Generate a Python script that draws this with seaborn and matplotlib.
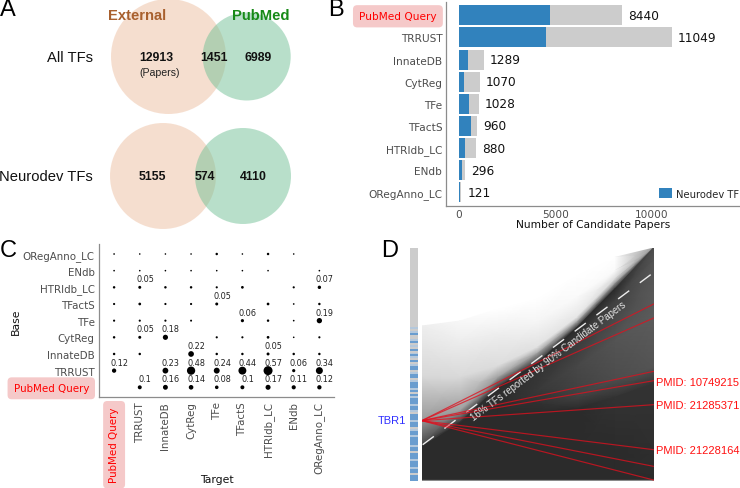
import numpy as np
import pandas as pd
import matplotlib
matplotlib.use("Agg")
import matplotlib.pyplot as plt
from matplotlib.colors import ListedColormap
from matplotlib.patches import Circle
from matplotlib.transforms import ScaledTranslation
import seaborn as sns

sns.set_theme(style="white")
plt.rcParams['font.family'] = ['DejaVu Sans']
W, H = 740, 489
HELV = 'Liberation Sans'
GREY = '#4D4D4D'
AXC = '#8C8C8C'

# ---- data ----
databases = ['PubMed Query', 'TRRUST', 'InnateDB', 'CytReg', 'TFe', 'TFactS', 'HTRIdb_LC', 'ENdb', 'ORegAnno_LC']
total_papers = [8440, 11049, 1289, 1070, 1028, 960, 880, 296, 121]
neurodev_papers = [4725, 4500, 483, 260, 535, 623, 312, 156, 36]

venn_all = ['12913', '1451', '6989']
venn_neuro = ['5155', '574', '4110']

overlap_pubmed = [np.nan, .1, .16, .14, .08, .1, .17, .11, .12]
overlap_trrust = [.12, np.nan, .23, .48, .24, .44, .57, .06, .34]
overlap_innate = [.03, .03, np.nan, .22, .03, .03, .05, .03, .03]
overlap_cytreg = [.03, .05, .18, np.nan, .02, .02, .04, .005, .02]
overlap_tfe = [.02, .02, .02, .015, np.nan, .06, .03, .007, .19]
overlap_tfacts = [.02, .04, .02, .02, .05, np.nan, .04, .007, .03]
overlap_htri = [.03, .05, .03, .03, .02, .04, np.nan, .02, .07]
overlap_endb = [.006, .005, .005, .005, .005, .005, .005, np.nan, .006]
overlap_oreg = [.006, .004, .004, .004, .03, .004, .03, .004, np.nan]

# panel D, read in image rows: x stations, band edges and grey level per band edge
d_x = [155, 270, 385, 500, 620, 735, 851]
d_edges = [
    [276, 261, 225, 195, 125, 70, 42],
    [330, 320, 300, 265, 190, 110, 42],
    [430, 430, 395, 340, 250, 135, 42],
    [560, 530, 430, 360, 265, 150, 42],
    [632, 565, 460, 390, 282, 165, 42],
    [640, 570, 480, 410, 310, 200, 80],
    [640, 575, 510, 470, 400, 320, 250],
    [640, 578, 535, 510, 490, 440, 400],
    [640, 580, 550, 535, 525, 490, 450],
    [650, 650, 650, 650, 650, 650, 650],
    [740, 740, 740, 740, 740, 740, 740],
]
d_grey = [
    [.93, .97, 1, 1, 1, 1, .6],
    [.90, .93, .93, .96, .98, .98, .55],
    [.84, .85, .86, .88, .90, .85, .5],
    [.60, .62, .62, .62, .62, .55, .45],
    [.28, .20, .17, .17, .17, .17, .30],
    [.17, .17, .18, .20, .22, .25, .33],
    [.17, .17, .17, .22, .28, .33, .36],
    [.17, .17, .17, .19, .25, .30, .33],
    [.17, .17, .17, .17, .17, .20, .20],
    [.17, .17, .17, .17, .17, .17, .18],
    [.17, .17, .17, .17, .17, .17, .17],
]
red_line_ends = [210, 252, 412, 440, 512, 647, 697, 738]
tbr1_row = 560
pmid_labels = ['PMID: 10749215', 'PMID: 21285371', 'PMID: 21228164']
side_stripes = "0101200120102012102012201220122212021222122102221222012212222122022212221220222"


fig = plt.figure(figsize=(W / 100, H / 100), dpi=100)


def px_axes(x0, y0, x1, y1, **kw):
    return fig.add_axes([x0 / W, 1 - y1 / H, (x1 - x0) / W, (y1 - y0) / H], **kw)


def px_text(x, y, s, **kw):
    kw.setdefault('va', 'center')
    return fig.text(x / W, 1 - y / H, s, **kw)


PILL = dict(boxstyle='round,pad=0.58,rounding_size=0.4', fc='#F5C9C9', ec='none')

# ---- panel letters ----
for s, x, y in [('A', 0, 10), ('B', 328, 10), ('C', 0, 251), ('D', 381, 251)]:
    px_text(x, y, s, fontsize=17, family=HELV, color='black', ha='left')

# ---- A: Venn ----
ax = fig.add_axes([0, 0, 1, 1], zorder=-1)
ax.set_xlim(0, W)
ax.set_ylim(H, 0)
ax.axis('off')
for cx, cy, r, c in [(168.5, 57.5, 57.5, '#EDBFA1'), (246.7, 57.5, 44, '#73C197'),
                     (163, 177, 53, '#EDBFA1'), (243, 177, 48, '#73C197')]:
    ax.add_patch(Circle((cx, cy), r, fc=c, ec='none', alpha=.5))

px_text(137, 16.5, 'External', family=HELV, fontsize=10.6, fontweight='bold', color='#A8602E', ha='center')
px_text(261, 16.5, 'PubMed', family=HELV, fontsize=10.6, fontweight='bold', color='#178A17', ha='center')
px_text(92.7, 57.5, 'All TFs', family=HELV, fontsize=10.6, ha='right', color='#111111')
px_text(92.7, 177, 'Neurodev TFs', family=HELV, fontsize=10.6, ha='right', color='#111111')
for s, x in zip(venn_all, [156.7, 213.7, 258]):
    px_text(x, 58, s, family=HELV, fontsize=8.8, fontweight='bold', ha='center', color='#111111')
for s, x in zip(venn_neuro, [152.3, 205, 253]):
    px_text(x, 177.5, s, family=HELV, fontsize=8.8, fontweight='bold', ha='center', color='#111111')
px_text(160, 72.7, '(Papers)', family=HELV, fontsize=7.6, ha='center', color='#222222')

# ---- B: bars ----
ax = px_axes(445.7, 3, 740, 206.7)
bars = pd.DataFrame({'db': databases, 'total': total_papers, 'neuro': neurodev_papers})
sns.barplot(data=bars, y='db', x='total', order=databases, color='#CCCCCC', saturation=1, width=.9, linewidth=0,
            ax=ax)
sns.barplot(data=bars, y='db', x='neuro', order=databases, color='#3182BD', saturation=1, width=.9, linewidth=0,
            ax=ax, label='Neurodev TF')
ax.set_xlim(-690, 14590)
ax.set_ylim(8.6, -0.6)
ax.set_xticks([0, 5000, 10000])
ax.set_ylabel('')
ax.set_xlabel('Number of Candidate Papers', fontsize=7.7, color='#111111', labelpad=0)
ax.tick_params(axis='both', length=0, labelsize=7.6, labelcolor=GREY, pad=2.5)
for sp in ['top', 'right']:
    ax.spines[sp].set_visible(False)
for sp in ['left', 'bottom']:
    ax.spines[sp].set_color(AXC)
    ax.spines[sp].set_linewidth(.9)
for i, t in enumerate(total_papers):
    ax.annotate(str(t), (t, i), xytext=(4.5, 0), textcoords='offset points', va='center', ha='left',
                fontsize=8.7, color='#111111')
lab = ax.get_yticklabels()[0]
lab.set_color('#FF0000')
lab.set_bbox(PILL)
lab.set_transform(lab.get_transform() + ScaledTranslation(-.055, 0, fig.dpi_scale_trans))
ax.legend(loc='lower right', bbox_to_anchor=(1.022, 0.0), frameon=False, fontsize=7.2, handlelength=1.3,
          handleheight=1.2, handletextpad=.45, borderpad=.2)

# ---- C: overlap dots ----
ax = px_axes(98.7, 245, 334, 398.3)
matrix = [overlap_pubmed, overlap_trrust, overlap_innate, overlap_cytreg, overlap_tfe,
          overlap_tfacts, overlap_htri, overlap_endb, overlap_oreg]
dots = pd.DataFrame(matrix, index=databases, columns=databases).rename_axis('Base').reset_index()
dots = dots.melt(id_vars='Base', var_name='Target', value_name='v').dropna()
dots['xi'] = dots['Target'].map(databases.index)
dots['yi'] = dots['Base'].map(databases.index)
sns.scatterplot(data=dots, x='xi', y='yi', size='v', sizes=(1, 44), size_norm=(0, .6), color='black',
                linewidth=0, legend=False, ax=ax)
for r in dots.itertuples():
    if r.v >= .05:
        ax.annotate(f'{r.v:g}', (r.xi, r.yi), xytext=(3.8, 6), textcoords='offset points', ha='center',
                    va='center', fontsize=5.9, color='#222222')
ax.set_xlim(-.6, 8.57)
ax.set_ylim(-.6, 8.6)
ax.set_xticks(range(9), databases, rotation=90)
ax.set_yticks(range(9), databases)
ax.tick_params(axis='both', length=0, labelsize=7.4, labelcolor=GREY, pad=3)
ax.set_xlabel('')
ax.set_ylabel('')
for sp in ['top', 'right']:
    ax.spines[sp].set_visible(False)
for sp in ['left', 'bottom']:
    ax.spines[sp].set_color(AXC)
    ax.spines[sp].set_linewidth(.9)
for lab in (ax.get_yticklabels()[0], ax.get_xticklabels()[0]):
    lab.set_color('#FF0000')
    lab.set_bbox(PILL)
ylab = ax.get_yticklabels()[0]
ylab.set_transform(ylab.get_transform() + ScaledTranslation(-.055, 0, fig.dpi_scale_trans))
xlab = ax.get_xticklabels()[0]
xlab.set_transform(xlab.get_transform() + ScaledTranslation(0, -.055, fig.dpi_scale_trans))
px_text(16, 322, 'Base', rotation=90, ha='center', fontsize=7.8, color='#111111')
px_text(216.7, 480, 'Target', ha='center', fontsize=7.8, color='#111111')

# ---- D: rank flows ----
ax = px_axes(421.7, 249, 653.7, 481.7)
X = np.tile(np.array(d_x, float), (len(d_edges), 1))
ax.pcolormesh(X, np.array(d_edges, float), np.array(d_grey), shading='gouraud', cmap='gray', vmin=0, vmax=1)
ax.plot([155, 851], [739, 739], color='#8A8A8A', lw=.9)
ax.plot([158, 842], [632, 122], color='#EDEDED', lw=1.0, dashes=(10, 9.5))
for e in red_line_ends:
    ax.plot([155, 851], [tbr1_row, e], color='#E0101E', lw=.85, alpha=.78)
ax.text(536, 380, '16% TFs reported by 90% Candidate Papers', rotation=37, rotation_mode='anchor', ha='center',
        va='center', family=HELV, fontsize=6.9, color='#E4E4E4')
ax.set_xlim(155, 851)
ax.set_ylim(740, 42)
ax.axis('off')

px_text(391.5, 421, 'TBR1', family=HELV, fontsize=8, color='#3030FF', ha='center')
for s, y in zip(pmid_labels, [382.7, 405.7, 450.7]):
    px_text(655.5, y, s, family=HELV, fontsize=8, color='#FF1010', ha='left')

# side strip
ax = px_axes(410, 249, 418, 481.7)
rows = [0] * 39 + [int(c) for c in side_stripes]
sns.heatmap(np.array(rows)[:, None], cmap=ListedColormap(['#CCCCCC', '#B4C8DC', '#6A9DCF']), vmin=0, vmax=2,
            cbar=False, xticklabels=False, yticklabels=False, ax=ax)

fig.savefig('out.png', dpi=100, facecolor='white')
